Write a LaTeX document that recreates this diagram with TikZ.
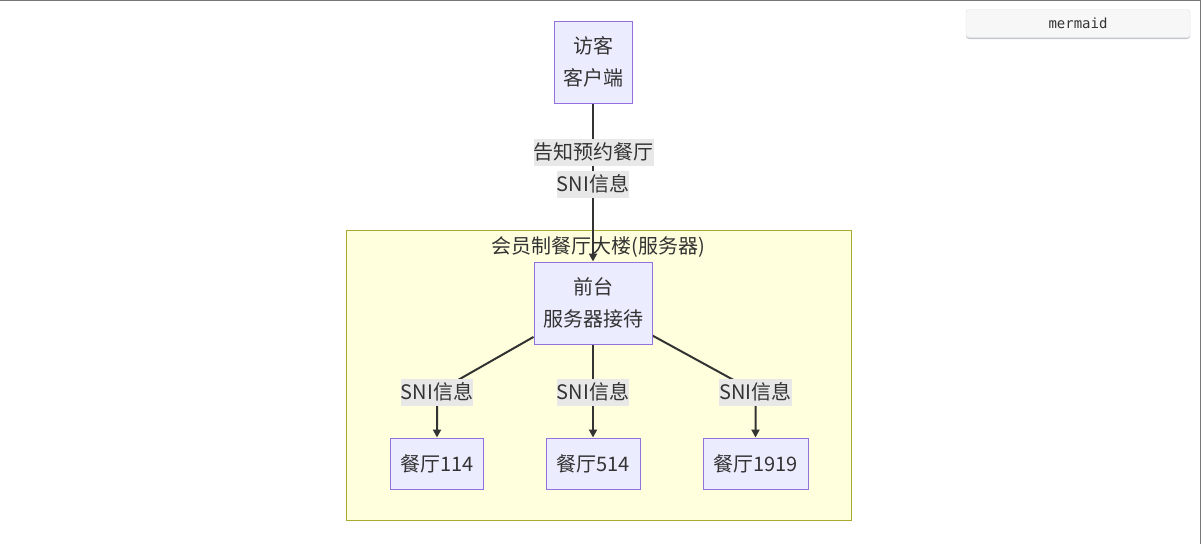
\documentclass[tikz,border=0pt]{standalone}
\usepackage{fontspec}
\setmainfont{Noto Sans CJK SC}
\newfontfamily\monofont{DejaVu Sans Mono}
\usetikzlibrary{arrows.meta}
\definecolor{nodefill}{HTML}{ECECFF}
\definecolor{nodeline}{HTML}{9370DB}
\definecolor{clusterfill}{HTML}{FFFFDE}
\definecolor{clusterline}{HTML}{AAAA33}
\definecolor{linkcol}{HTML}{333333}
\definecolor{labelfill}{HTML}{E8E8E8}
\definecolor{btnfill}{HTML}{F7F7F7}
\definecolor{btnline}{HTML}{E2E2E2}
\definecolor{btnshadow}{HTML}{C4C8CE}
\definecolor{frameline}{HTML}{777777}
\pgfdeclarelayer{bg}
\pgfdeclarelayer{edges}
\pgfsetlayers{bg,edges,main}
\tikzset{
  nodebox/.style={draw=nodeline, fill=nodefill, line width=1pt, text=linkcol,
    align=center, inner sep=0pt, font=\fontsize{20}{32}\selectfont},
  edgelabel/.style={fill=labelfill, text=linkcol, inner xsep=0pt, inner ysep=0pt,
    minimum height=27pt, font=\fontsize{20}{32}\selectfont},
  link/.style={draw=linkcol, line width=2pt, -{Triangle[length=8pt,width=8pt]}},
}
\begin{document}
\begin{tikzpicture}[x=1pt,y=-1pt]
    \useasboundingbox (0,0) rectangle (1201,544);
    \draw[frameline, line width=1pt] (0,0.5) -- (1200.5,0.5) -- (1200.5,544);
    % mermaid button
    \fill[btnshadow, rounded corners=3pt] (966,12) rectangle (1190,39);
    \node[draw=btnline, fill=btnfill, rounded corners=3pt, minimum width=224pt,
      minimum height=28pt, inner sep=0pt, text=linkcol, font=\monofont\fontsize{14}{16}\selectfont]
      (mermaidbtn) at (1078,23.5) {mermaid};
    % building (server)
    \begin{pgfonlayer}{bg}
        \node[draw=clusterline, fill=clusterfill, line width=1pt, minimum width=505pt,
          minimum height=290pt, inner sep=0pt] (building) at (598.5,375) {};
        \node[text=linkcol, font=\fontsize{20}{32}\selectfont] (buildingtitle) at (598.5,247) {会员制餐厅大楼(服务器)};
    \end{pgfonlayer}
    % nodes
    \node[nodebox, minimum width=78pt, minimum height=82pt] (visitor) at (593,62) {访客\\客户端};
    \node[nodebox, minimum width=118pt, minimum height=82pt] (front) at (593,303) {前台\\服务器接待};
    \node[nodebox, minimum width=93pt, minimum height=51pt] (r114) at (437,463.5) {餐厅114};
    \node[nodebox, minimum width=94pt, minimum height=51pt] (r514) at (593,463.5) {餐厅514};
    \node[nodebox, minimum width=105pt, minimum height=51pt] (r1919) at (755.5,463.5) {餐厅1919};
    % edge labels
    \node[edgelabel] (tipA) at (593.5,152) {告知预约餐厅};
    \node[edgelabel] (tipB) at (593,184) {SNI信息};
    \node[edgelabel] (sni114) at (437,392) {SNI信息};
    \node[edgelabel] (sni514) at (593,392) {SNI信息};
    \node[edgelabel] (sni1919) at (755.5,392) {SNI信息};
    % edges
    \begin{pgfonlayer}{edges}
        \draw[link] (visitor) -- (front);
        \draw[link] (front) -- (sni114.center) -- (r114);
        \draw[link] (front) -- (r514);
        \draw[link] (front) -- (sni1919.center) -- (r1919);
    \end{pgfonlayer}
\end{tikzpicture}
\end{document}
